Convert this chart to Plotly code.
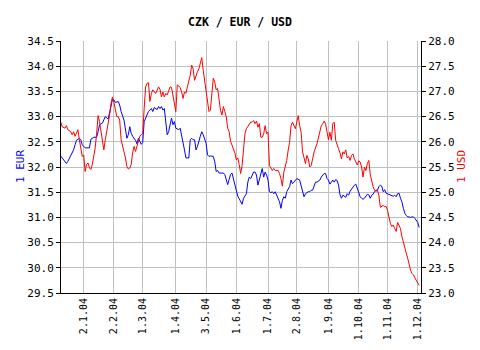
import plotly.graph_objects as go

# ---- data ----
eur_dates = [
    "2003-12-05", "2003-12-09", "2003-12-11", "2003-12-12", "2003-12-16", "2003-12-18", "2003-12-19",
    "2003-12-22", "2003-12-29", "2003-12-30", "2003-12-31",
    "2004-01-05", "2004-01-08", "2004-01-09", "2004-01-13", "2004-01-15", "2004-01-16", "2004-01-19",
    "2004-01-21", "2004-01-22", "2004-01-23", "2004-01-27", "2004-01-28", "2004-01-29", "2004-01-30",
    "2004-02-02", "2004-02-03", "2004-02-05", "2004-02-06", "2004-02-09", "2004-02-11", "2004-02-13",
    "2004-02-16", "2004-02-17", "2004-02-18", "2004-02-19", "2004-02-23", "2004-02-24", "2004-02-25",
    "2004-02-27",
    "2004-03-01", "2004-03-02", "2004-03-04", "2004-03-05", "2004-03-09", "2004-03-10", "2004-03-11",
    "2004-03-15", "2004-03-16", "2004-03-17", "2004-03-18", "2004-03-19", "2004-03-22", "2004-03-23",
    "2004-03-24", "2004-03-25", "2004-03-26", "2004-03-29", "2004-03-30", "2004-03-31",
    "2004-04-01", "2004-04-05", "2004-04-06", "2004-04-07", "2004-04-08", "2004-04-09", "2004-04-13",
    "2004-04-15", "2004-04-16", "2004-04-19", "2004-04-20", "2004-04-21", "2004-04-22", "2004-04-23",
    "2004-04-27", "2004-04-28", "2004-04-29", "2004-04-30",
    "2004-05-03", "2004-05-04", "2004-05-05", "2004-05-06", "2004-05-10", "2004-05-11", "2004-05-12",
    "2004-05-13", "2004-05-14", "2004-05-18", "2004-05-19", "2004-05-20", "2004-05-21", "2004-05-24",
    "2004-05-25", "2004-05-26", "2004-05-27", "2004-05-28", "2004-05-31",
    "2004-06-01", "2004-06-02", "2004-06-03", "2004-06-04", "2004-06-07", "2004-06-08", "2004-06-09",
    "2004-06-10", "2004-06-11", "2004-06-14", "2004-06-15", "2004-06-16", "2004-06-17", "2004-06-18",
    "2004-06-21", "2004-06-22", "2004-06-23", "2004-06-24", "2004-06-25", "2004-06-28", "2004-06-29",
    "2004-06-30",
    "2004-07-01", "2004-07-02", "2004-07-07", "2004-07-08", "2004-07-09", "2004-07-12", "2004-07-13",
    "2004-07-14", "2004-07-15", "2004-07-16", "2004-07-19", "2004-07-20", "2004-07-21", "2004-07-22",
    "2004-07-26", "2004-07-27", "2004-07-28", "2004-07-29", "2004-07-30",
    "2004-08-02", "2004-08-04", "2004-08-05", "2004-08-06", "2004-08-09", "2004-08-10", "2004-08-12",
    "2004-08-13", "2004-08-16", "2004-08-17", "2004-08-18", "2004-08-19", "2004-08-20", "2004-08-24",
    "2004-08-25", "2004-08-26", "2004-08-27", "2004-08-30", "2004-08-31",
    "2004-09-01", "2004-09-02", "2004-09-03", "2004-09-06", "2004-09-07", "2004-09-08", "2004-09-09",
    "2004-09-10", "2004-09-13", "2004-09-14", "2004-09-15", "2004-09-16", "2004-09-17", "2004-09-20",
    "2004-09-21", "2004-09-22", "2004-09-23", "2004-09-24", "2004-09-27", "2004-09-29", "2004-09-30",
    "2004-10-01", "2004-10-04", "2004-10-05", "2004-10-06", "2004-10-07", "2004-10-08", "2004-10-11",
    "2004-10-12", "2004-10-13", "2004-10-14", "2004-10-15", "2004-10-18", "2004-10-19", "2004-10-20",
    "2004-10-21", "2004-10-22", "2004-10-25", "2004-10-26", "2004-10-27", "2004-10-29",
    "2004-11-01", "2004-11-02", "2004-11-03", "2004-11-04", "2004-11-05", "2004-11-08", "2004-11-09",
    "2004-11-10", "2004-11-11", "2004-11-12", "2004-11-15", "2004-11-16", "2004-11-18", "2004-11-19",
    "2004-11-22", "2004-11-23", "2004-11-24", "2004-11-25", "2004-11-26", "2004-11-29", "2004-11-30",
    "2004-12-01", "2004-12-02",
]
eur_rates = [
    32.22, 32.14, 32.07, 32.11, 32.22, 32.34, 32.44, 32.53, 32.57, 32.54, 32.44,
    32.38, 32.38, 32.55, 32.59, 32.59, 32.70, 32.84, 32.87, 32.93, 33.00, 32.95, 33.08, 33.26, 33.34,
    33.33, 33.28, 33.30, 33.23, 33.10, 32.93, 32.57, 32.64, 32.80, 32.67, 32.61, 32.53, 32.46, 32.57,
    32.45,
    32.49, 32.90, 33.03, 33.10, 33.16, 33.10, 33.18, 33.14, 33.20, 33.16, 33.20, 33.13, 33.16, 32.93,
    32.64, 32.70, 32.84, 32.97, 32.84, 32.90,
    32.77, 32.74, 32.77, 32.64, 32.47, 32.34, 32.18, 32.18, 32.54, 32.57, 32.54, 32.54, 32.34, 32.41,
    32.61, 32.70, 32.64, 32.57,
    32.47, 32.24, 32.21, 32.22, 32.21, 32.11, 31.91, 31.93, 31.88, 31.88, 31.88, 31.85, 31.75, 31.65,
    31.75, 31.85, 31.88, 31.75, 31.65,
    31.49, 31.42, 31.37, 31.30, 31.26, 31.38, 31.44, 31.47, 31.70, 31.80, 31.77, 31.84, 31.90, 31.90,
    31.84, 31.64, 31.77, 31.87, 31.97, 31.80, 31.90, 31.84,
    31.74, 31.51, 31.49, 31.51, 31.47, 31.51, 31.44, 31.38, 31.31, 31.18, 31.34, 31.41, 31.38, 31.51,
    31.61, 31.74, 31.67, 31.70, 31.74,
    31.77, 31.74, 31.64, 31.54, 31.41, 31.47, 31.51, 31.51, 31.54, 31.54, 31.64, 31.70, 31.70, 31.74,
    31.80, 31.84, 31.87, 31.87, 31.77,
    31.74, 31.66, 31.70, 31.74, 31.70, 31.75, 31.73, 31.64, 31.45, 31.38, 31.44, 31.41, 31.40, 31.47,
    31.44, 31.52, 31.57, 31.61, 31.64, 31.66, 31.58,
    31.47, 31.41, 31.38, 31.36, 31.38, 31.41, 31.46, 31.45, 31.38, 31.44, 31.46, 31.51, 31.54, 31.54,
    31.61, 31.64, 31.62, 31.51, 31.55, 31.48,
    31.47, 31.45, 31.45, 31.44, 31.42, 31.44, 31.41, 31.47, 31.48, 31.38, 31.31, 31.18, 31.08, 31.04,
    31.01, 31.01, 31.00, 31.01, 31.01, 30.98, 30.95,
    30.90, 30.80,
]

usd_dates = [
    "2003-12-05", "2003-12-08", "2003-12-10", "2003-12-11", "2003-12-12", "2003-12-16", "2003-12-17",
    "2003-12-18", "2003-12-19", "2003-12-22", "2003-12-23", "2003-12-29", "2003-12-30", "2003-12-31",
    "2004-01-02", "2004-01-05", "2004-01-06", "2004-01-07", "2004-01-08", "2004-01-09", "2004-01-12",
    "2004-01-13", "2004-01-14", "2004-01-15", "2004-01-16", "2004-01-19", "2004-01-20", "2004-01-21",
    "2004-01-22", "2004-01-23", "2004-01-26", "2004-01-27", "2004-01-28", "2004-01-29", "2004-01-30",
    "2004-02-02", "2004-02-03", "2004-02-04", "2004-02-05", "2004-02-06", "2004-02-09", "2004-02-10",
    "2004-02-11", "2004-02-12", "2004-02-13", "2004-02-16", "2004-02-17", "2004-02-18", "2004-02-19",
    "2004-02-20", "2004-02-23", "2004-02-24", "2004-02-25", "2004-02-26", "2004-02-27",
    "2004-03-01", "2004-03-02", "2004-03-03", "2004-03-04", "2004-03-05", "2004-03-08", "2004-03-09",
    "2004-03-10", "2004-03-11", "2004-03-12", "2004-03-16", "2004-03-17", "2004-03-18", "2004-03-19",
    "2004-03-22", "2004-03-23", "2004-03-24", "2004-03-26", "2004-03-29", "2004-03-30", "2004-03-31",
    "2004-04-01", "2004-04-02", "2004-04-06", "2004-04-07", "2004-04-08", "2004-04-09", "2004-04-13",
    "2004-04-14", "2004-04-15", "2004-04-16", "2004-04-19", "2004-04-20", "2004-04-21", "2004-04-22",
    "2004-04-23", "2004-04-26", "2004-04-27", "2004-04-28", "2004-04-29", "2004-04-30",
    "2004-05-03", "2004-05-04", "2004-05-05", "2004-05-06", "2004-05-07", "2004-05-10", "2004-05-11",
    "2004-05-12", "2004-05-13", "2004-05-14", "2004-05-17", "2004-05-18", "2004-05-19", "2004-05-20",
    "2004-05-21", "2004-05-24", "2004-05-25", "2004-05-26", "2004-05-27", "2004-05-28", "2004-05-31",
    "2004-06-01", "2004-06-02", "2004-06-03", "2004-06-04", "2004-06-07", "2004-06-08", "2004-06-09",
    "2004-06-10", "2004-06-14", "2004-06-15", "2004-06-16", "2004-06-17", "2004-06-18", "2004-06-21",
    "2004-06-22", "2004-06-23", "2004-06-24", "2004-06-25", "2004-06-28", "2004-06-29", "2004-06-30",
    "2004-07-01", "2004-07-02", "2004-07-07", "2004-07-08", "2004-07-09", "2004-07-12", "2004-07-14",
    "2004-07-15", "2004-07-16", "2004-07-19", "2004-07-20", "2004-07-21", "2004-07-22", "2004-07-23",
    "2004-07-26", "2004-07-27", "2004-07-28", "2004-07-30",
    "2004-08-02", "2004-08-03", "2004-08-04", "2004-08-05", "2004-08-06", "2004-08-09", "2004-08-10",
    "2004-08-11", "2004-08-12", "2004-08-13", "2004-08-16", "2004-08-17", "2004-08-18", "2004-08-20",
    "2004-08-23", "2004-08-24", "2004-08-25", "2004-08-26", "2004-08-27", "2004-08-30", "2004-08-31",
    "2004-09-01", "2004-09-02", "2004-09-03", "2004-09-06", "2004-09-07", "2004-09-08", "2004-09-09",
    "2004-09-10", "2004-09-13", "2004-09-14", "2004-09-15", "2004-09-16", "2004-09-17", "2004-09-20",
    "2004-09-21", "2004-09-22", "2004-09-23", "2004-09-24", "2004-09-27", "2004-09-29", "2004-09-30",
    "2004-10-01", "2004-10-04", "2004-10-05", "2004-10-06", "2004-10-07", "2004-10-08", "2004-10-11",
    "2004-10-12", "2004-10-13", "2004-10-14", "2004-10-15", "2004-10-18", "2004-10-19", "2004-10-20",
    "2004-10-21", "2004-10-22", "2004-10-25", "2004-10-26", "2004-10-27", "2004-10-29",
    "2004-11-01", "2004-11-02", "2004-11-03", "2004-11-04", "2004-11-05", "2004-11-08", "2004-11-09",
    "2004-11-10", "2004-11-11", "2004-11-12", "2004-11-15", "2004-11-16", "2004-11-18", "2004-11-19",
    "2004-11-22", "2004-11-23", "2004-11-24", "2004-11-25", "2004-11-26", "2004-11-29", "2004-11-30",
    "2004-12-01", "2004-12-02",
]
usd_rates = [
    26.40, 26.30, 26.27, 26.32, 26.24, 26.20, 26.14, 26.20, 26.11, 26.17, 26.24, 26.04, 25.88, 25.71,
    25.74, 25.41, 25.55, 25.58, 25.48, 25.45, 25.55, 25.71, 25.88, 26.17, 26.52, 26.40, 26.24, 26.07,
    25.84, 26.04, 26.20, 26.34, 26.53, 26.76, 26.89,
    26.78, 26.60, 26.50, 26.50, 26.43, 26.04, 25.91, 25.84, 25.68, 25.51, 25.46, 25.48, 25.55, 25.78,
    25.91, 25.81, 25.91, 25.97, 26.11, 26.14,
    26.17, 26.66, 27.09, 27.16, 27.17, 26.80, 26.96, 27.03, 26.99, 26.96, 27.09, 27.04, 26.89, 26.99,
    26.89, 26.96, 26.93, 27.09, 27.08, 26.89, 26.76,
    26.60, 27.13, 27.08, 26.99, 26.86, 26.99, 26.96, 27.09, 27.19, 27.32, 27.52, 27.45, 27.22, 27.32,
    27.39, 27.45, 27.55, 27.67, 27.42, 27.22,
    27.03, 26.83, 26.60, 26.63, 27.03, 27.26, 27.19, 27.03, 27.06, 26.83, 26.63, 26.53, 26.70, 26.60,
    26.50, 26.27, 26.20, 26.01, 25.94, 25.84, 25.78,
    25.64, 25.68, 25.55, 25.37, 25.53, 25.86, 26.16, 26.26, 26.36, 26.39, 26.39, 26.42, 26.36, 26.41,
    26.29, 26.36, 26.09, 26.09, 26.16, 26.32, 26.16,
    26.19, 25.53, 25.47, 25.43, 25.47, 25.43, 25.43, 25.37, 25.27, 25.12, 25.40, 25.53, 25.63, 25.83,
    25.99, 26.32, 26.39, 26.26,
    26.39, 26.52, 26.32, 26.19, 25.80, 25.70, 25.57, 25.73, 25.66, 25.50, 25.53, 25.66, 25.80, 25.96,
    26.09, 26.22, 26.32, 26.36, 26.41, 26.35, 26.15,
    26.04, 26.19, 26.03, 26.36, 26.39, 26.03, 25.96, 25.86, 25.78, 25.66, 25.80, 25.76, 25.84, 25.68,
    25.71, 25.63, 25.73, 25.76, 25.66, 25.60, 25.54,
    25.62, 25.60, 25.50, 25.30, 25.50, 25.43, 25.57, 25.63, 25.35, 25.20, 25.11, 25.04, 25.01, 25.04,
    24.94, 24.70, 24.72, 24.74, 24.71, 24.72,
    24.64, 24.48, 24.38, 24.32, 24.35, 24.28, 24.22, 24.40, 24.32, 24.28, 24.12, 23.99, 23.89, 23.79,
    23.69, 23.55, 23.45, 23.39, 23.36, 23.30, 23.25,
    23.20, 23.15,
]

tick_dates = ["2004-01-02", "2004-02-02", "2004-03-01", "2004-04-01", "2004-05-03", "2004-06-01",
              "2004-07-01", "2004-08-02", "2004-09-01", "2004-10-01", "2004-11-01", "2004-12-01"]
tick_labels = ["2.1.04", "2.2.04", "1.3.04", "1.4.04", "3.5.04", "1.6.04",
               "1.7.04", "2.8.04", "1.9.04", "1.10.04", "1.11.04", "1.12.04"]
non_trading_days = ["2003-12-24", "2003-12-25", "2003-12-26", "2004-01-01", "2004-04-12",
                    "2004-07-05", "2004-07-06", "2004-09-28", "2004-10-28", "2004-11-17"]

MONO = "DejaVu Sans Mono"
GRID = "#c0c0c0"
W, H = 480, 350
ML, MR, MT, MB = 61, 59, 41, 57
PW, PH = W - ML - MR, H - MT - MB

fig = go.Figure()
fig.add_trace(go.Scatter(x=eur_dates, y=eur_rates, mode="lines", name="EUR",
                         line=dict(color="#0000ff", width=1), yaxis="y"))
fig.add_trace(go.Scatter(x=usd_dates, y=usd_rates, mode="lines", name="USD",
                         line=dict(color="#ff0000", width=1), yaxis="y2"))

fig.update_layout(
    width=W, height=H,
    margin=dict(l=ML, r=MR, t=MT, b=MB, autoexpand=False),
    paper_bgcolor="white", plot_bgcolor="white",
    showlegend=False,
    title=dict(text="<b>CZK / EUR / USD</b>", x=0.5, xanchor="center", y=1 - 22 / H, yanchor="middle",
               font=dict(family=MONO, size=11.5, color="black")),
    font=dict(family=MONO, size=11, color="black"),
    xaxis=dict(
        type="date",
        range=["2003-12-05 06:00", "2004-12-03 06:00"],
        rangebreaks=[dict(bounds=["sat", "mon"]), dict(values=non_trading_days)],
        tickmode="array", tickvals=tick_dates, ticktext=tick_labels,
        tickangle=-90, tickfont=dict(family=MONO, size=10, color="black"),
        showgrid=True, gridcolor=GRID, gridwidth=1,
        showline=True, linecolor="black", linewidth=1,
        ticks="", zeroline=False, fixedrange=True,
    ),
    yaxis=dict(
        range=[29.5, 34.5], dtick=0.5, tick0=29.5, tickformat=".1f",
        showgrid=True, gridcolor=GRID, gridwidth=1,
        showline=True, linecolor="black", linewidth=1,
        ticks="outside", ticklen=4, tickcolor="black",
        tickfont=dict(family=MONO, size=11, color="black"),
        zeroline=False,
    ),
    yaxis2=dict(
        range=[23.0, 28.0], dtick=0.5, tick0=23.0, tickformat=".1f",
        overlaying="y", side="right", anchor="x",
        showgrid=False, showline=True, linecolor="black", linewidth=1,
        ticks="outside", ticklen=4, tickcolor="black",
        tickfont=dict(family=MONO, size=11, color="black"),
        zeroline=False,
    ),
    annotations=[
        dict(text="1 EUR", textangle=-90, xref="paper", yref="paper",
             x=(20 - ML) / PW, y=(MT + PH - 167) / PH, xanchor="center", yanchor="middle",
             showarrow=False, font=dict(family=MONO, size=11, color="#0000ff")),
        dict(text="1 USD", textangle=-90, xref="paper", yref="paper",
             x=(461 - ML) / PW, y=(MT + PH - 167) / PH, xanchor="center", yanchor="middle",
             showarrow=False, font=dict(family=MONO, size=11, color="#ff0000")),
    ],
)

fig.write_html("out.html", config={"displayModeBar": False},
               post_script="document.body.style.margin='0';")
